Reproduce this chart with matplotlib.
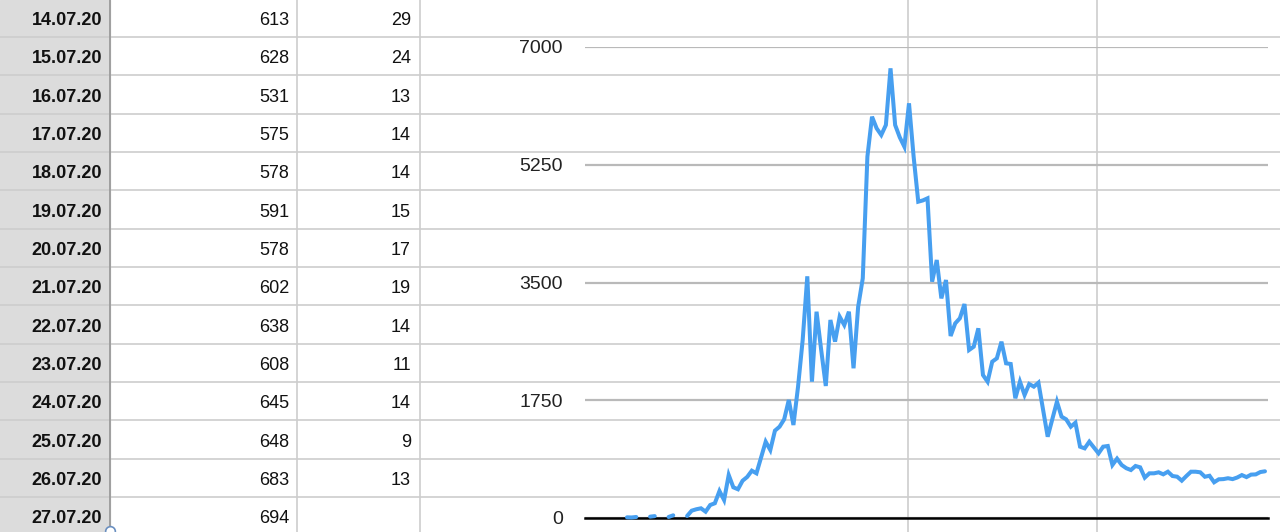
import numpy as np
import matplotlib
matplotlib.use("Agg")
import matplotlib.pyplot as plt

plt.rcParams['font.family'] = ['Liberation Sans', 'DejaVu Sans']

# ---- table data ----
dates = ["14.07.20", "15.07.20", "16.07.20", "17.07.20", "18.07.20", "19.07.20",
         "20.07.20", "21.07.20", "22.07.20", "23.07.20", "24.07.20", "25.07.20",
         "26.07.20", "27.07.20"]
cases_tbl = [613, 628, 531, 575, 578, 591, 578, 602, 638, 608, 645, 648, 683, 694]
deaths_tbl = [29, 24, 13, 14, 14, 15, 17, 19, 14, 11, 14, 9, 13, None]

# ---- chart series: daily values before 14.07.20 ----
nan = np.nan
earlier_cases = [
    10, 8, 15, nan, nan, 20, 28, nan, nan, 15,
    40, nan, nan, 30, 109, 130, 144, 94, 193, 219,
    401, 267, 639, 456, 427, 554, 610, 703, 664, 900,
    1134, 1010, 1298, 1357, 1467, 1754, 1382, 1952, 2645, 3592,
    2026, 3066, 2500, 1962, 2943, 2621, 2992, 2868, 3066, 2225,
    3140, 3562, 5370, 5964, 5791, 5692, 5841, 6683, 5841, 5658,
    5518, 6163, 5370, 4701, 4720, 4751, 3512, 3834, 3264, 3537,
    2705, 2893, 2968, 3180, 2497, 2546, 2819, 2125, 2026, 2323,
    2373, 2620, 2299, 2289, 1779, 2026, 1828, 1991, 1952, 2011,
    1610, 1208, 1470, 1729, 1506, 1466, 1357, 1416, 1060, 1035,
    1134, 1047, 961, 1060, 1070, 788, 882, 788, 740, 713,
    773, 753, 600, 664, 664, 679, 649, 688, 624, 614,
    555, 624, 688, 688, 679,
]
series = np.array(earlier_cases + cases_tbl, dtype=float)
yticks = [0, 1750, 3500, 5250, 7000]

W, H = 1280, 532
fig = plt.figure(figsize=(W / 100, H / 100), dpi=100)

# ---- spreadsheet background ----
bg = fig.add_axes([0, 0, 1, 1])
bg.set_xlim(0, W)
bg.set_ylim(H, 0)
bg.axis('off')

row_h = 38.33
first_line = 37.0
first_text = 20.5
grid_col = '#cdcdcd'

bg.add_patch(plt.Rectangle((0, 0), 110, H, color='#dcdcdc', zorder=0))
for k in range(-1, 14):
    y = first_line + row_h * k
    bg.plot([0, W], [y, y], color=grid_col, lw=1.2, zorder=1)
for x in [297, 420, 908, 1097]:
    bg.plot([x, x], [0, H], color=grid_col, lw=1.2, zorder=1)
bg.plot([110, 110], [0, H], color='#9a9a9a', lw=1.3, zorder=2)

for k, d in enumerate(dates):
    y = first_text + row_h * k
    bg.text(102, y, d, ha='right', va='center', fontsize=13, fontweight='bold', color='#111111')
    bg.text(289, y, str(cases_tbl[k]), ha='right', va='center', fontsize=13, color='#111111')
    if deaths_tbl[k] is not None:
        bg.text(411, y, str(deaths_tbl[k]), ha='right', va='center', fontsize=13, color='#111111')

bg.plot([110], [531], marker='o', ms=7, mfc='white', mec='#6a8fc0', mew=1.2, zorder=5, clip_on=False)

# ---- chart ----
x0, x1 = 585, 1268
ytop, ybot = 47, 518
ax = fig.add_axes([x0 / W, (H - ybot) / H, (x1 - x0) / W, (ybot - ytop) / H])
ax.patch.set_alpha(0)
idx = np.arange(len(series))
px0, dpx = 627.0, 4.623
ax.set_xlim((x0 - px0) / dpx, (x1 - px0) / dpx)
ax.set_ylim(0, 7000)
for s in ax.spines.values():
    s.set_visible(False)
ax.set_xticks([])
ax.set_yticks(yticks)
ax.set_yticklabels([str(t) for t in yticks])
ax.tick_params(axis='y', length=0, pad=16, labelsize=14, labelcolor='#222222')
ax.grid(axis='y', color='#b9b9b9', lw=1.6)
ax.set_axisbelow(True)
ax.axhline(0, color='black', lw=1.8, zorder=2, clip_on=False)
ax.plot(idx, series, color='#479ff0', lw=2.9, zorder=3, clip_on=False,
        solid_joinstyle='miter', solid_capstyle='round')

fig.savefig('out.png', dpi=100)
